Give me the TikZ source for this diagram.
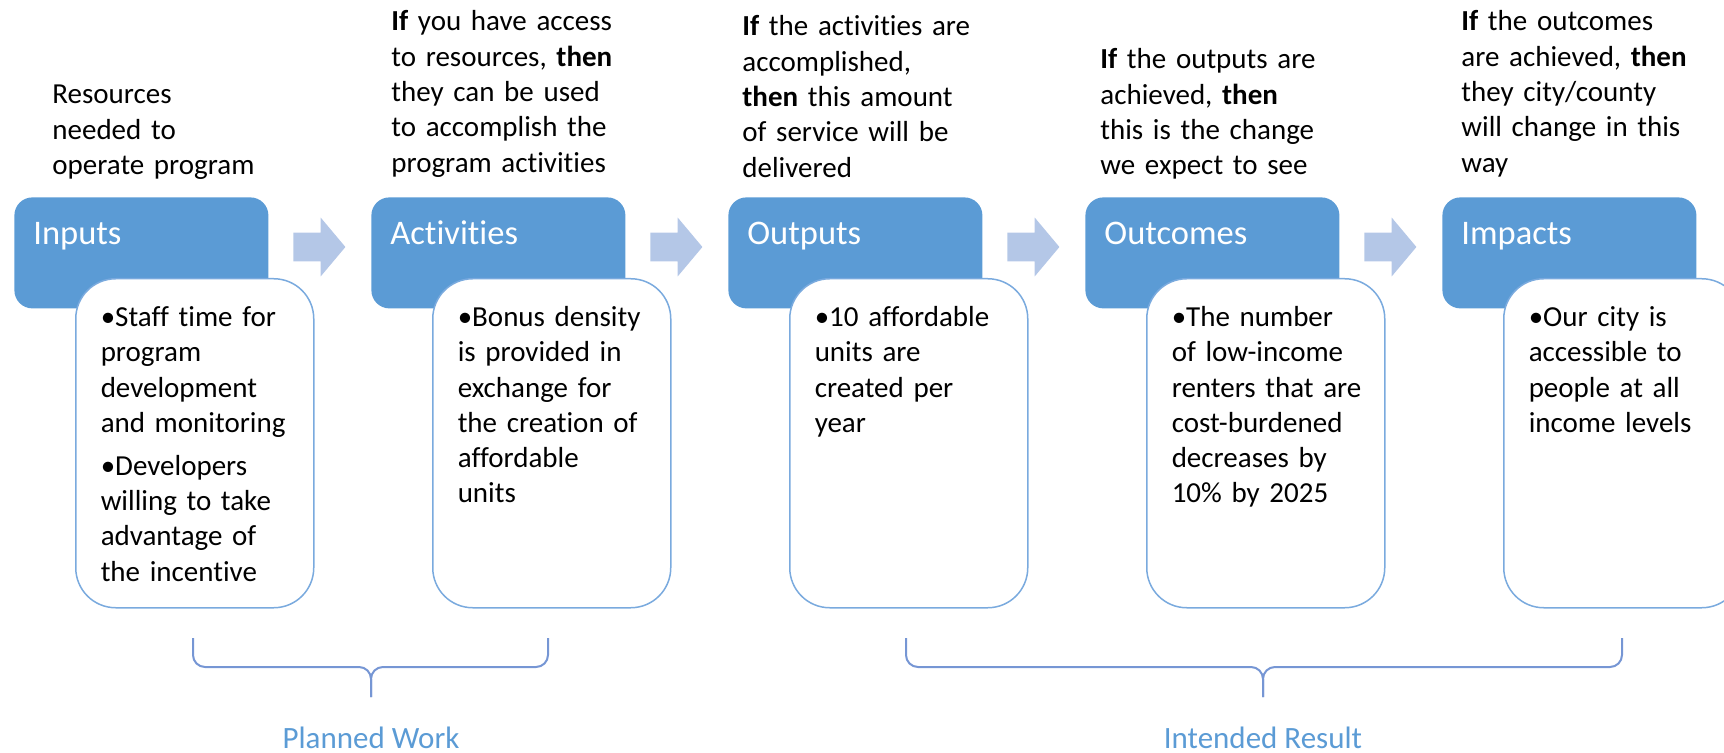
\documentclass[tikz,border=0pt]{standalone}
\usepackage{fontspec}
\setmainfont[Ligatures=NoCommon]{Carlito}
\usetikzlibrary{shapes.arrows,positioning}

\definecolor{headblue}{RGB}{91,155,213}
\definecolor{arrowblue}{RGB}{180,199,231}
\definecolor{edgeblue}{RGB}{122,170,222}
\definecolor{braceblue}{RGB}{118,150,212}

\tikzset{
  headbox/.style={fill=headblue, rounded corners=9pt, anchor=north west, inner ysep=0pt, inner xsep=9.5pt,
    text width=108pt, align=left, text height=23.5pt, text depth=32pt, text=white,
    font=\fontsize{17.25}{20}\selectfont},
  bodybox/.style={draw=edgeblue, line width=0.75pt, fill=white, rounded corners=20pt, anchor=north west,
    inner ysep=0pt, inner xsep=12.5pt, text width=94pt, align=left, text height=24pt, text depth=140.5pt,
    font=\fontsize{14.5}{17.6}\selectfont},
  notetext/.style={anchor=base west, inner sep=0pt, text width=125pt, align=left,
    font=\fontsize{14.5}{17.65}\selectfont},
  flowarrow/.style={single arrow, fill=arrowblue, anchor=tail, inner sep=7pt, minimum height=26pt,
    single arrow head extend=7.5pt, single arrow tip angle=100},
  bracepath/.style={draw=braceblue, line width=1pt, rounded corners=6pt},
  grouplabel/.style={anchor=base, inner sep=0pt, text=headblue, font=\fontsize{15.5}{18}\selectfont}
}

\begin{document}
\begin{tikzpicture}[x=0.5pt, y=-0.5pt]
      \clip (0,0) rectangle (1724,753);

      % notes above the columns
      \node[notetext] (inputs-note) at (52,104) {Resources\\needed to\\operate program};
      \node[notetext] (activities-note) at (391,31) {\textbf{If} you have access\\to resources, \textbf{then}\\they can be used\\to accomplish the\\program activities};
      \node[notetext] (outputs-note) at (742,36) {\textbf{If} the activities are\\accomplished,\\\textbf{then} this amount\\of service will be\\delivered};
      \node[notetext] (outcomes-note) at (1100,69) {\textbf{If} the outputs are\\achieved, \textbf{then}\\this is the change\\we expect to see};
      \node[notetext] (impacts-note) at (1461,31) {\textbf{If} the outcomes\\are achieved, \textbf{then}\\they city/county\\will change in this\\way};

      % column headers
      \node[headbox] (inputs) at (14,197) {Inputs};
      \node[headbox] (activities) at (371,197) {Activities};
      \node[headbox] (outputs) at (728,197) {Outputs};
      \node[headbox] (outcomes) at (1085,197) {Outcomes};
      \node[headbox] (impacts) at (1442,197) {Impacts};

      % column contents
      \node[bodybox] (inputs-body) at (75,278) {\textbullet Staff time for\\program\\development\\and monitoring\\[4pt]\textbullet Developers\\willing to take\\advantage of\\the incentive};
      \node[bodybox] (activities-body) at (432,278) {\textbullet Bonus density\\is provided in\\exchange for\\the creation of\\affordable\\units};
      \node[bodybox] (outputs-body) at (789,278) {\textbullet 10 affordable\\units are\\created per\\year};
      \node[bodybox] (outcomes-body) at (1146,278) {\textbullet The number\\of low-income\\\mbox{renters that are}\\cost-burdened\\decreases by\\10\% by 2025};
      \node[bodybox] (impacts-body) at (1503,278) {\textbullet Our city is\\accessible to\\people at all\\income levels};

      % arrows between headers
      \node[flowarrow] (arr1) at (293,247) {};
      \node[flowarrow] (arr2) at (650,247) {};
      \node[flowarrow] (arr3) at (1007,247) {};
      \node[flowarrow] (arr4) at (1364,247) {};

      % braces
      \coordinate (pw-l) at (193,638);
      \coordinate (pw-r) at (548,638);
      \coordinate (pw-tip) at (371,697);
      \draw[bracepath] (pw-l) |- (pw-tip |- 0,667) -- (pw-tip);
      \draw[bracepath] (pw-r) |- (pw-tip |- 0,667) -- (pw-tip);

      \coordinate (ir-l) at (906,638);
      \coordinate (ir-r) at (1622,638);
      \coordinate (ir-tip) at (1263,697);
      \draw[bracepath] (ir-l) |- (ir-tip |- 0,667) -- (ir-tip);
      \draw[bracepath] (ir-r) |- (ir-tip |- 0,667) -- (ir-tip);

      \node[grouplabel] (planned) at (371,748) {Planned Work};
      \node[grouplabel] (intended) at (1263,748) {Intended Result};
\end{tikzpicture}
\end{document}
